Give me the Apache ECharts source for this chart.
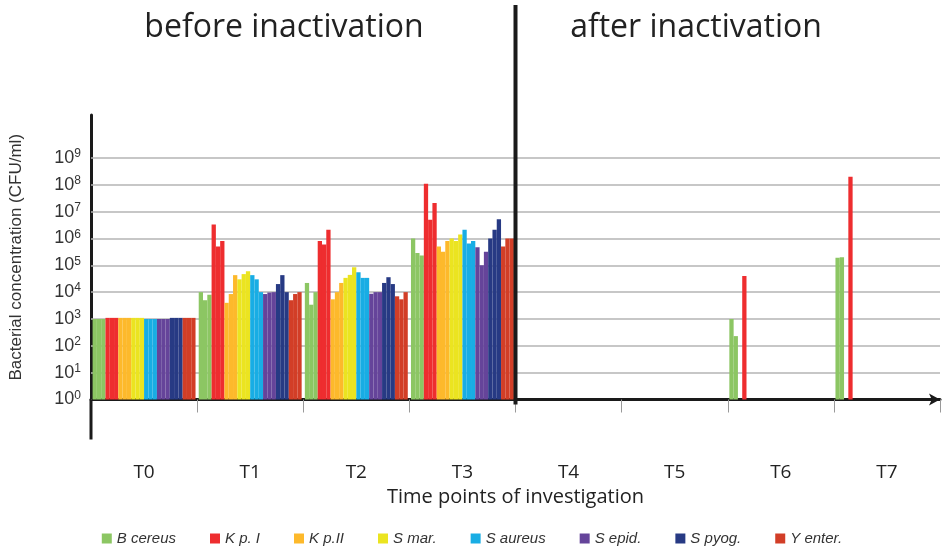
<!DOCTYPE html>
<html style="height: 100%">
<head>
    <meta charset="utf-8">
    <title>Bacterial concentration before / after inactivation</title>
    <script type="text/javascript" src="https://cdn.jsdelivr.net/npm/echarts@6/dist/echarts.min.js"></script>
</head>
<body style="height: 100%; margin: 0; background: #fff">
    <div id="container" style="width: 944px; height: 549px"></div>

    <script type="text/javascript">
        // time points (x categories)
        var timePoints = ['T0', 'T1', 'T2', 'T3', 'T4', 'T5', 'T6', 'T7'];
        var speciesNames = ['B cereus', 'K p. I', 'K p.II', 'S mar.', 'S aureus', 'S epid.', 'S pyog.', 'Y enter.'];
        var speciesColors = ['#8cc663', '#ee2d2f', '#fdb92b', '#ebe420', '#18ade4', '#65449a', '#273a84', '#d23e27'];
        // y axis decades shown as grid lines
        var decades = [1e1, 1e2, 1e3, 1e4, 1e5, 1e6, 1e7, 1e8, 1e9];

        // CFU/ml, per time point: [replicate 1, replicate 2, replicate 3]
        var bCereus = [[1000, 1000, 1000], [1e4, 5e3, 8e3], [2.2e4, 3.4e3, 1e4], [1e6, 2.9e5, 2.3e5],
            [null, null, null], [null, null, null], [1000, 230, null], [1.9e5, 2e5, null]];
        var kpI = [[1100, 1100, 1100], [3.3e6, 5e5, 8e5], [8e5, 6e5, 2.1e6], [1.1e8, 5e6, 2.1e7],
            [null, null, null], [null, null, null], [4e4, null, null], [2e8, null, null]];
        var kpII = [[1100, 1100, 1100], [4e3, 8.5e3, 4.3e4], [5.4e3, 1e4, 2.2e4], [5e5, 3.2e5, 8e5],
            [null, null, null], [null, null, null], [null, null, null], [null, null, null]];
        var sMar = [[1100, 1100, 1100], [3e4, 4.7e4, 6e4], [3.4e4, 4.4e4, 8.5e4], [1e6, 8e5, 1.4e6],
            [null, null, null], [null, null, null], [null, null, null], [null, null, null]];
        var sAureus = [[1000, 1000, 1000], [4.3e4, 3e4, 1e4], [5.5e4, 3.4e4, 3.4e4], [2.1e6, 6.5e5, 8e5],
            [null, null, null], [null, null, null], [null, null, null], [null, null, null]];
        var sEpid = [[1000, 1000, 1000], [8.5e3, 9.7e3, 1e4], [8.7e3, 1e4, 1e4], [4.7e5, 1e5, 3.2e5],
            [null, null, null], [null, null, null], [null, null, null], [null, null, null]];
        var sPyog = [[1100, 1100, 1100], [2e4, 4.3e4, 1e4], [2.2e4, 3.6e4, 2e4], [1e6, 2.1e6, 5.2e6],
            [null, null, null], [null, null, null], [null, null, null], [null, null, null]];
        var yEnter = [[1100, 1100, 1100], [5e3, 8.5e3, 1e4], [7e3, 5.4e3, 1e4], [5e5, 1e6, 1e6],
            [null, null, null], [null, null, null], [null, null, null], [null, null, null]];

        var allSpecies = [bCereus, kpI, kpII, sMar, sAureus, sEpid, sPyog, yEnter];
        var yMax = Math.pow(10, 10.6);

        var dom = document.getElementById('container');
        var myChart = echarts.init(dom);

        // one bar series per replicate, same name -> one legend entry per species
        var series = [];
        allSpecies.forEach(function (d, s) {
            for (var r = 0; r < 3; r++) {
                series.push({
                    name: speciesNames[s],
                    type: 'bar',
                    barGap: '0%',
                    barCategoryGap: '3%',
                    itemStyle: { color: speciesColors[s] },
                    data: d.map(function (t) { return t[r]; })
                });
            }
        });
        // grid lines behind the bars
        series[0].markLine = {
            silent: true,
            symbol: 'none',
            z: 1,
            label: { show: false },
            lineStyle: { color: '#b4b4b4', width: 1.5, type: 'solid' },
            data: decades.map(function (v) { return { yAxis: v }; })
        };

        var option = {
            animation: false,
            legend: {
                left: 'center',
                top: 526,
                itemWidth: 10,
                itemHeight: 10,
                itemGap: 34,
                icon: 'rect',
                textStyle: { fontFamily: 'Liberation Sans', fontStyle: 'italic', fontSize: 15, color: '#333' },
                data: speciesNames
            },
            grid: {
                left: 89,
                right: 4,
                top: 115,
                bottom: 149.5,
                containLabel: false
            },
            xAxis: {
                type: 'category',
                data: timePoints,
                name: 'Time points of investigation',
                nameLocation: 'middle',
                nameGap: 84,
                nameTextStyle: { fontFamily: 'Open Sans', fontSize: 20, color: '#222' },
                axisLine: {
                    lineStyle: { color: '#1a1a1a', width: 3 },
                    symbol: ['none', 'arrow'],
                    symbolSize: [9, 11]
                },
                axisTick: { show: true, length: 13, lineStyle: { color: '#999', width: 1 } },
                axisLabel: { margin: 64, fontFamily: 'Open Sans', fontSize: 19, color: '#222' }
            },
            yAxis: {
                type: 'log',
                logBase: 10,
                min: 1,
                max: yMax,
                interval: 1,
                name: 'Bacterial concentration (CFU/ml)',
                nameLocation: 'middle',
                nameRotate: 90,
                nameGap: 66,
                nameTextStyle: { fontFamily: 'Liberation Sans', fontSize: 17, color: '#333' },
                axisLine: { show: true, lineStyle: { color: '#1a1a1a', width: 3 } },
                axisTick: { show: false },
                splitLine: { show: false },
                axisLabel: {
                    margin: 10,
                    formatter: function (value) {
                        var e = Math.log10(value);
                        var n = Math.round(e);
                        if (Math.abs(e - n) > 1e-6 || n > 9) return '';
                        return '{b|10}{s|' + n + '}';
                    },
                    rich: {
                        b: { fontFamily: 'Liberation Sans', fontSize: 18, color: '#333', lineHeight: 20 },
                        s: { fontFamily: 'Liberation Sans', fontSize: 12, color: '#333', verticalAlign: 'top', lineHeight: 12, padding: [0, 0, 8, 0] }
                    }
                }
            },
            series: series
        };
        myChart.setOption(option, true);

        // divider, titles and y-axis extension placed from the axis scales
        var x3 = myChart.convertToPixel({ xAxisIndex: 0 }, 'T3');
        var x4 = myChart.convertToPixel({ xAxisIndex: 0 }, 'T4');
        var xDiv = (x3 + x4) / 2;
        var yBase = myChart.convertToPixel({ yAxisIndex: 0 }, 1);
        var xLeft = myChart.convertToPixel({ xAxisIndex: 0 }, 'T0') - (x4 - x3) / 2;

        myChart.setOption({
            graphic: [
                {
                    type: 'line', z: 100,
                    shape: { x1: xDiv, y1: 5, x2: xDiv, y2: yBase + 5 },
                    style: { stroke: '#1a1a1a', lineWidth: 4 }
                },
                {
                    type: 'line', z: 100,
                    shape: { x1: xLeft, y1: yBase, x2: xLeft, y2: yBase + 40 },
                    style: { stroke: '#1a1a1a', lineWidth: 3 }
                },
                {
                    type: 'text', x: 284, y: 12,
                    style: { text: 'before inactivation', fontFamily: 'Open Sans', fontSize: 32, fill: '#222', textAlign: 'center' }
                },
                {
                    type: 'text', x: 696, y: 12,
                    style: { text: 'after inactivation', fontFamily: 'Open Sans', fontSize: 32, fill: '#222', textAlign: 'center' }
                }
            ]
        });
    </script>
</body>
</html>
